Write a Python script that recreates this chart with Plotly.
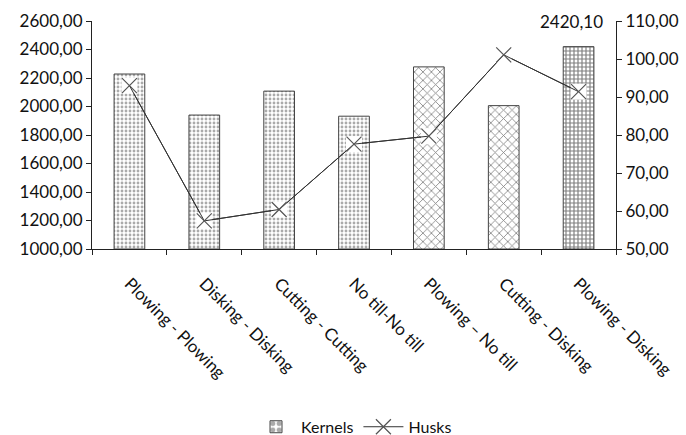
import plotly.graph_objects as go

# Tillage treatments and measured values
categories = ["Plowing - Plowing", "Disking - Disking", "Cutting - Cutting",
              "No till-No till", "Plowing – No till", "Cutting - Disking",
              "Plowing - Disking"]
kernels = [2228, 1940, 2108, 1932, 2278, 2006, 2420.10]
husks = [93.0, 57.4, 60.4, 77.6, 79.7, 101.1, 91.4]
left_ticks = [1000, 1200, 1400, 1600, 1800, 2000, 2200, 2400, 2600]
right_ticks = [50, 60, 70, 80, 90, 100, 110]

# Fill patterns per bar
bar_shapes = [".", ".", ".", ".", "x", "x", "+"]
bar_fg = ["#555555"] * 4 + ["#000000"] * 2 + ["#000000"]
bar_size = [4, 4, 4, 4, 6, 6, 4]
bar_solidity = [0.4, 0.4, 0.4, 0.4, 0.25, 0.25, 0.5]

FONT = "Lato"
TICK_SIZE = 17
AXIS_COLOR = "#222222"

fig = go.Figure()

fig.add_trace(go.Bar(
    x=categories, y=[k - 1000 for k in kernels], base=1000,
    name="Kernels",
    marker=dict(
        color="white",
        line=dict(color="#444444", width=1),
        pattern=dict(shape=bar_shapes, fgcolor=bar_fg, bgcolor="white",
                     size=bar_size, solidity=bar_solidity, fillmode="overlay"),
    ),
    width=0.41,
    hoverinfo="skip",
))

# Husks line on secondary axis
fig.add_trace(go.Scatter(
    x=categories, y=husks, yaxis="y2", name="Husks",
    mode="lines", line=dict(color="#333333", width=1),
    showlegend=False,
))
# White backing behind each marker
fig.add_trace(go.Scatter(
    x=categories, y=husks, yaxis="y2", mode="markers",
    marker=dict(symbol="square", size=16, color="white", line=dict(width=0)),
    showlegend=False, hoverinfo="skip",
))
fig.add_trace(go.Scatter(
    x=categories, y=husks, yaxis="y2", name="Husks",
    mode="lines+markers",
    line=dict(color="#333333", width=1),
    marker=dict(symbol="x-thin", size=15, color="#555555",
                line=dict(color="#555555", width=1.2)),
))

fig.add_annotation(
    x=categories[-1], y=kernels[-1], text="2420,10",
    showarrow=False, yshift=25, xshift=-7,
    font=dict(family=FONT, size=TICK_SIZE, color="#111111"),
)

fig.update_layout(
    width=686, height=435,
    margin=dict(l=92, r=70, t=21, b=186, autoexpand=False),
    paper_bgcolor="white", plot_bgcolor="white",
    separators=",.",
    font=dict(family=FONT, size=TICK_SIZE, color="#111111"),
    bargap=0.59,
    xaxis=dict(
        automargin=False,
        showline=True, linecolor=AXIS_COLOR, linewidth=1,
        ticks="outside", ticklen=5, tickcolor=AXIS_COLOR,
        tickson="boundaries", tickangle=45,
        ticklabelstandoff=17,
        showgrid=False, zeroline=False,
        tickfont=dict(family=FONT, size=TICK_SIZE),
    ),
    yaxis=dict(
        automargin=False,
        range=[1000, 2600], tickvals=left_ticks, tickformat=".2f",
        showline=True, linecolor=AXIS_COLOR, linewidth=1,
        ticks="outside", ticklen=5, tickcolor=AXIS_COLOR,
        showgrid=False, zeroline=False,
        tickfont=dict(family=FONT, size=TICK_SIZE),
    ),
    yaxis2=dict(
        automargin=False,
        range=[50, 110], tickvals=right_ticks, tickformat=".2f",
        overlaying="y", side="right",
        showline=True, linecolor=AXIS_COLOR, linewidth=1,
        ticks="outside", ticklen=5, tickcolor=AXIS_COLOR,
        showgrid=False, zeroline=False,
        tickfont=dict(family=FONT, size=TICK_SIZE),
    ),
    legend=dict(
        orientation="h", x=0.5, xanchor="center", y=-0.78, yanchor="middle",
        font=dict(family=FONT, size=16), bgcolor="rgba(0,0,0,0)",
        itemwidth=40,
    ),
    showlegend=True,
)

fig.write_html("out.html")
